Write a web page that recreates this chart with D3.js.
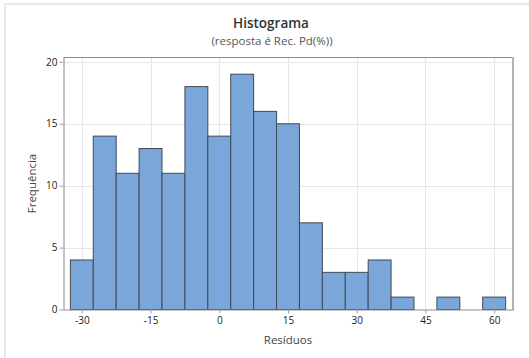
<!DOCTYPE html>
<html>
<head>
<meta charset="utf-8">
<script src="https://cdn.jsdelivr.net/npm/d3@7"></script>
<style>
  html, body { margin: 0; padding: 0; background: #fff; }
  svg { display: block; font-family: "Open Sans", "Noto Sans", sans-serif; }
</style>
</head>
<body>
<svg id="chart" width="529" height="358"></svg>
<script>
// Residual histogram: bin midpoints (width 5) and counts
const binMids = [-30, -25, -20, -15, -10, -5, 0, 5, 10, 15, 20, 25, 30, 35, 40, 45, 50, 55, 60];
const counts  = [4, 14, 11, 13, 11, 18, 14, 19, 16, 15, 7, 3, 3, 4, 1, 0, 1, 0, 1];
const binWidth = 5;
const xTicks = [-30, -15, 0, 15, 30, 45, 60];
const yTicks = [0, 5, 10, 15, 20];

const titleText = "Histograma";
const subtitleText = "(resposta é Rec. Pd(%))";
const xLabel = "Resíduos";
const yLabel = "Frequência";

const svg = d3.select("#chart");
const plot = { left: 63.5, right: 512.5, top: 57.5, bottom: 309.5 };

const x = d3.scaleLinear().domain([-34, 64]).range([plot.left, plot.right]);
const y = d3.scaleLinear().domain([0, 20.35]).range([plot.bottom, plot.top]);

// outer panel border (top and left edges)
svg.append("path")
  .attr("d", "M5,358 V4 H529")
  .attr("fill", "none")
  .attr("stroke", "#e9e9e9")
  .attr("stroke-width", 2);

// gridlines
const grid = svg.append("g");
grid.selectAll("line.v").data(xTicks).join("line")
  .attr("x1", d => Math.round(x(d)) + 0.5).attr("x2", d => Math.round(x(d)) + 0.5)
  .attr("y1", plot.top).attr("y2", plot.bottom)
  .attr("stroke", "#e6e6e6").attr("stroke-width", 1);
grid.selectAll("line.h").data(yTicks.filter(d => d > 0)).join("line")
  .attr("x1", plot.left).attr("x2", plot.right)
  .attr("y1", d => Math.round(y(d)) + 0.5).attr("y2", d => Math.round(y(d)) + 0.5)
  .attr("stroke", "#e6e6e6").attr("stroke-width", 1);

// bars
svg.append("g").selectAll("rect").data(binMids).join("rect")
  .attr("x", (d) => x(d - binWidth / 2))
  .attr("width", (d) => x(d + binWidth / 2) - x(d - binWidth / 2))
  .attr("y", (d, i) => y(counts[i]))
  .attr("height", (d, i) => y(0) - y(counts[i]))
  .attr("fill", "#7BA6D9")
  .attr("stroke", "#3f4a55")
  .attr("stroke-width", 1);

// frame: top and right edges
svg.append("line")
  .attr("x1", plot.left).attr("x2", plot.right)
  .attr("y1", plot.top).attr("y2", plot.top)
  .attr("stroke", "#8c8c8c");
svg.append("line")
  .attr("x1", plot.right + 0.5).attr("x2", plot.right + 0.5)
  .attr("y1", plot.top - 0.5).attr("y2", plot.bottom + 1)
  .attr("stroke", "#b3b3b3").attr("stroke-width", 2);

// axes (plain hyphen for negative numbers)
const fmt = d => String(d);
const xAxis = d3.axisBottom(x).tickValues(xTicks).tickFormat(fmt).tickSize(4).tickPadding(3);
const yAxis = d3.axisLeft(y).tickValues(yTicks).tickFormat(fmt).tickSize(4).tickPadding(2);

const gx = svg.append("g").attr("transform", `translate(0,${plot.bottom})`).call(xAxis);
const gy = svg.append("g").attr("transform", `translate(${plot.left},0)`).call(yAxis);

[gx, gy].forEach(g => {
  g.select(".domain").attr("stroke", "#8c8c8c");
  g.selectAll(".tick line").attr("stroke", "#a0a0a0");
  g.selectAll(".tick text")
    .attr("fill", "#222")
    .style("font-size", "10px")
    .style("font-family", "'Open Sans', sans-serif");
});
gx.select(".domain").attr("d", `M${plot.left},0.5H${plot.right}`);
gy.select(".domain").attr("d", `M0.5,${plot.bottom}V${plot.top}`);

// titles
svg.append("text")
  .attr("x", 271).attr("y", 28)
  .attr("text-anchor", "middle")
  .attr("fill", "#333")
  .style("font-size", "13.5px").style("font-weight", 600)
  .text(titleText);
svg.append("text")
  .attr("x", 272).attr("y", 45)
  .attr("text-anchor", "middle")
  .attr("fill", "#555")
  .style("font-size", "11.5px")
  .text(subtitleText);

svg.append("text")
  .attr("x", (plot.left + plot.right) / 2).attr("y", 344)
  .attr("text-anchor", "middle")
  .attr("fill", "#444")
  .style("font-size", "11.5px")
  .text(xLabel);
svg.append("text")
  .attr("transform", `translate(36,${(plot.top + plot.bottom) / 2}) rotate(-90)`)
  .attr("text-anchor", "middle")
  .attr("fill", "#444")
  .style("font-size", "11.5px")
  .text(yLabel);
</script>
</body>
</html>
